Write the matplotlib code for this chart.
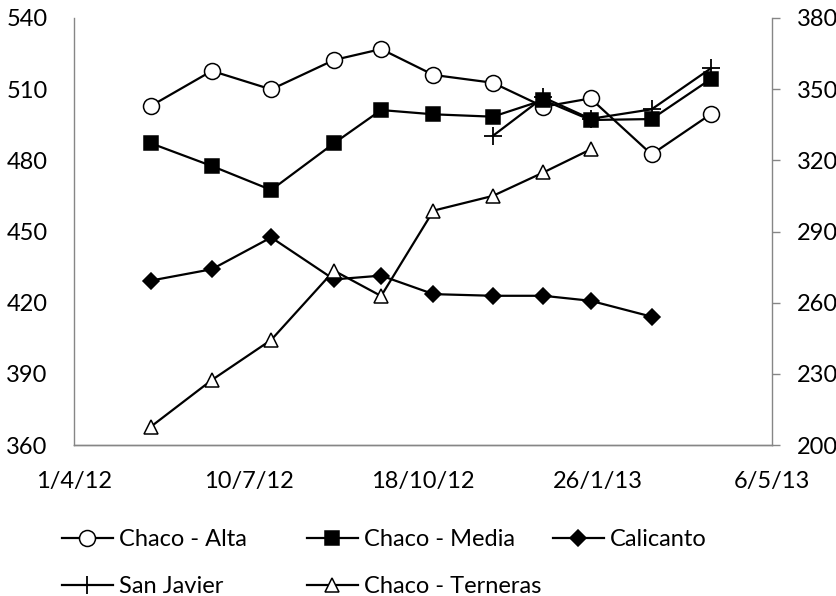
import datetime as dt
import matplotlib
matplotlib.use("Agg")
from matplotlib import pyplot as plt
from matplotlib.lines import Line2D
from matplotlib.ticker import FixedLocator, FuncFormatter
import matplotlib.dates as mdates

plt.rcParams["font.family"] = ["Lato", "DejaVu Sans"]

all_dates = ["2012-05-15", "2012-06-19", "2012-07-23", "2012-08-28", "2012-09-24",
             "2012-10-24", "2012-11-27", "2012-12-26", "2013-01-22", "2013-02-26",
             "2013-04-01"]
alta = [502.9, 517.7, 509.9, 522.3, 526.9, 516.0, 512.7, 502.6, 506.1, 482.5, 499.5]
media = [487.2, 477.6, 467.5, 487.2, 501.2, 499.4, 498.4, 505.4, 497.0, 497.4, 514.3]
calicanto = [429.3, 434.1, 447.5, 429.8, 431.4, 423.6, 422.9, 422.9, 420.8, 414.1]
sanjavier_dates = ["2012-11-27", "2012-12-26", "2013-01-22", "2013-02-26", "2013-04-01"]
sanjavier = [490.3, 506.5, 497.5, 501.5, 518.8]
terneras = [207.7, 227.4, 244.3, 273.5, 262.8, 298.8, 305.0, 314.9, 324.6]  # right axis

x_ticks = ["2012-04-01", "2012-07-10", "2012-10-18", "2013-01-26", "2013-05-06"]
left_ticks = [360, 390, 420, 450, 480, 510, 540]
right_ticks = [200, 230, 260, 290, 320, 350, 380]


def to_dates(lst):
    return [dt.datetime.strptime(s, "%Y-%m-%d") for s in lst]


d_all = to_dates(all_dates)
d_sj = to_dates(sanjavier_dates)
d_ticks = to_dates(x_ticks)

W, H = 837, 596
fig = plt.figure(figsize=(W / 100, H / 100), dpi=100)
ax = fig.add_axes([74 / W, (H - 445) / H, (772 - 74) / W, (445 - 18) / H])
ax2 = ax.twinx()

lw = 1.6
mew = 1.1
ax.plot(d_all, alta, color="black", lw=lw, marker="o", ms=11.5, mfc="white", mec="black", mew=mew, zorder=3)
ax.plot(d_all, media, color="black", lw=lw, marker="s", ms=10.5, mfc="black", mec="black", mew=mew, zorder=3)
ax.plot(d_all[:len(calicanto)], calicanto, color="black", lw=lw, marker="D", ms=8.2, mfc="black", mec="black", mew=mew, zorder=3)
ax.plot(d_sj, sanjavier, color="black", lw=lw, marker="+", ms=13, mec="black", mew=1.3, zorder=4)
ax2.plot(d_all[:len(terneras)], terneras, color="black", lw=lw, marker="^", ms=10.5, mfc="white", mec="black", mew=mew, zorder=3)

ax.set_ylim(left_ticks[0], left_ticks[-1])
ax2.set_ylim(right_ticks[0], right_ticks[-1])
ax.set_yticks(left_ticks)
ax2.set_yticks(right_ticks)
ax.set_xlim(d_ticks[0], d_ticks[-1])
ax.xaxis.set_major_locator(FixedLocator(mdates.date2num(d_ticks)))
ax.xaxis.set_major_formatter(FuncFormatter(
    lambda v, p: "{}/{}/{}".format(mdates.num2date(v).day, mdates.num2date(v).month, mdates.num2date(v).strftime("%y"))))

grey = "#868686"
for a in (ax, ax2):
    a.spines["top"].set_visible(False)
    for s in ("left", "right", "bottom"):
        a.spines[s].set_color(grey)
        a.spines[s].set_linewidth(1.0)
ax2.spines["left"].set_visible(False)
ax.spines["right"].set_visible(False)

fs = 17
ax.tick_params(axis="y", length=0, pad=19, labelsize=fs)
ax.tick_params(axis="x", length=0, pad=19, labelsize=fs)
ax2.tick_params(axis="y", length=6, width=1.0, color=grey, direction="out", pad=12, labelsize=fs)

# legend: three columns with fixed width, like excel
def handle(marker, ms, mfc, mew=mew):
    return Line2D([], [], color="black", lw=lw, marker=marker, ms=ms, mfc=mfc, mec="black", mew=mew)

cols = [
    (62, [handle("o", 11.5, "white"), handle("+", 13, "black", 1.3)], ["Chaco - Alta", "San Javier"]),
    (307, [handle("s", 10.5, "black"), handle("^", 10.5, "white")], ["Chaco - Media", "Chaco - Terneras"]),
    (553, [handle("D", 8.2, "black")], ["Calicanto"]),
]
for x0, hs, labs in cols:
    fig.legend(hs, labs, loc="upper left", bbox_to_anchor=(x0 / W, 1 - 529 / H),
               frameon=False, fontsize=fs, borderpad=0, borderaxespad=0,
               handlelength=2.15, handletextpad=0.25, labelspacing=1.1)

fig.savefig("out.png", dpi=100)
